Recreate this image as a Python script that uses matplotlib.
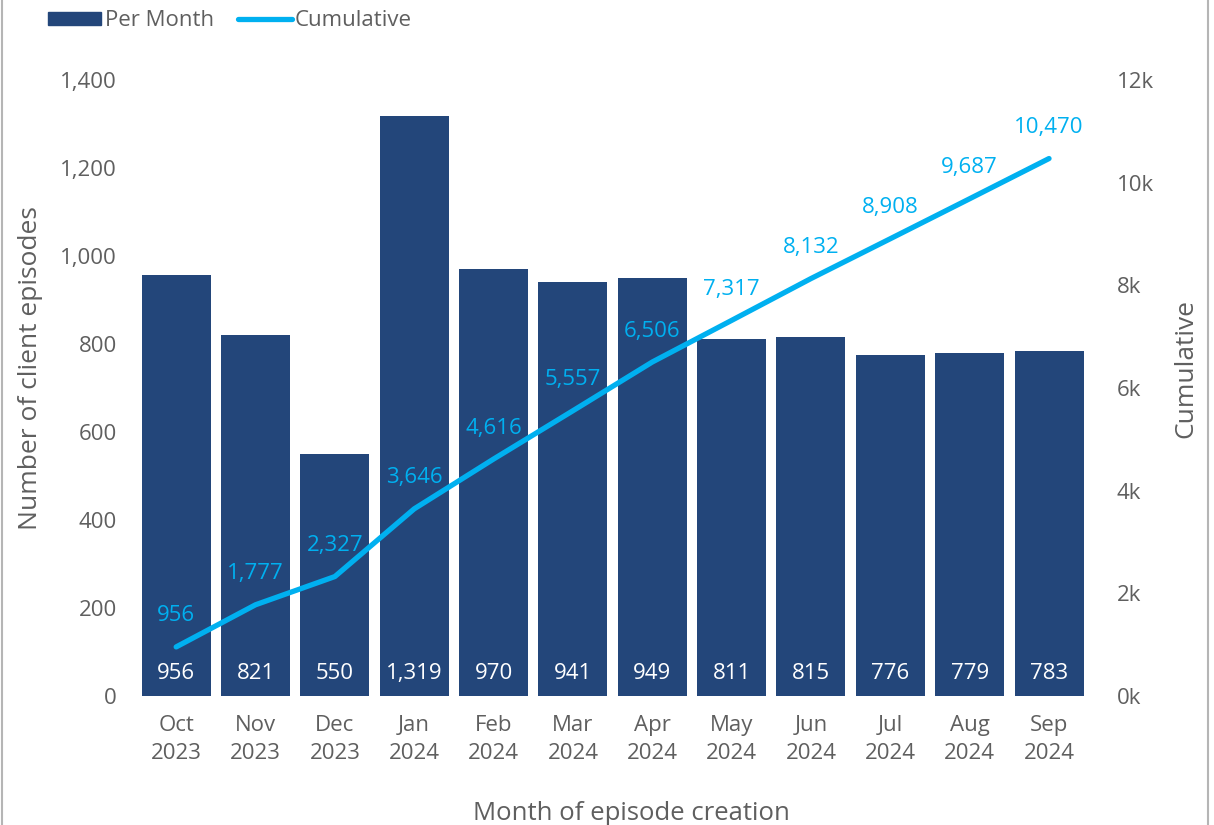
import matplotlib
matplotlib.use("Agg")
import matplotlib.pyplot as plt
from matplotlib.lines import Line2D
from matplotlib.ticker import FuncFormatter
import numpy as np

months = ["Oct\n2023", "Nov\n2023", "Dec\n2023", "Jan\n2024", "Feb\n2024", "Mar\n2024",
          "Apr\n2024", "May\n2024", "Jun\n2024", "Jul\n2024", "Aug\n2024", "Sep\n2024"]
per_month = [956, 821, 550, 1319, 970, 941, 949, 811, 815, 776, 779, 783]
cumulative = [956, 1777, 2327, 3646, 4616, 5557, 6506, 7317, 8132, 8908, 9687, 10470]

bar_color = '#23467A'
line_color = '#00B0F0'
text_color = '#5f5f5f'

plt.rcParams['font.family'] = ['Open Sans', 'DejaVu Sans']
plt.rcParams['font.size'] = 16

fig = plt.figure(figsize=(12.14, 8.25), dpi=100)
ax = fig.add_axes([136.5 / 1214, 1 - 696 / 825, (1088.7 - 136.5) / 1214, (696 - 80) / 825])
ax2 = ax.twinx()

x = np.arange(len(months))
ax.bar(x, per_month, 0.87, color=bar_color, label='Per Month', zorder=2)
ax.set_xlim(-0.5, len(months) - 0.5)
ax.set_ylim(0, 1400)
ax.set_yticks(range(0, 1401, 200))
ax.yaxis.set_major_formatter(FuncFormatter(lambda v, p: f'{int(v):,}'))

for xi, v in zip(x, per_month):
    ax.text(xi, 52, f'{v:,}', ha='center', va='center', color='white', fontsize=16, zorder=3)

ax2.plot(x, cumulative, color=line_color, lw=3.8, solid_capstyle='round', label='Cumulative', zorder=3)
ax2.set_ylim(0, 12000)
ax2.set_yticks(range(0, 12001, 2000))
ax2.yaxis.set_major_formatter(FuncFormatter(lambda v, p: f'{int(v / 1000)}k'))
for xi, v in zip(x, cumulative):
    ax2.annotate(f'{v:,}', (xi, v), xytext=(0, 31), textcoords='offset pixels',
                 ha='center', va='center', color=line_color, fontsize=16)

for a in (ax, ax2):
    for s in a.spines.values():
        s.set_visible(False)
    a.tick_params(length=0, colors=text_color, labelsize=16)
ax.tick_params(axis='y', pad=14)
ax2.tick_params(axis='y', pad=20)
ax.tick_params(axis='x', pad=14)

ax.set_ylabel('Number of client episodes', color=text_color, fontsize=19)
ax.yaxis.set_label_coords(-0.098, 0.532)
ax2.set_ylabel('Cumulative', color=text_color, fontsize=19)
ax2.yaxis.set_label_coords(1.0885, 0.532)
ax.set_xlabel('Month of episode creation', color=text_color, fontsize=18.5)
ax.xaxis.set_label_coords(0.52, -0.17)
ax.set_xticks(x)
ax.set_xticklabels(months, linespacing=1.4)

handles = [plt.Rectangle((0, 0), 1, 1, color=bar_color),
           Line2D([0], [0], color=line_color, lw=3.8, solid_capstyle='round')]
fig.legend(handles, ['Per Month', 'Cumulative'], loc='upper left', bbox_to_anchor=(28 / 1214, 1.012),
           ncol=2, frameon=False, fontsize=16, handlelength=2.4, handleheight=0.5, handletextpad=0.15,
           columnspacing=1.1, labelcolor=text_color)

fig.add_artist(Line2D([2 / 1214, 2 / 1214], [0, 1], color='#b5b5b5', lw=1.5))
fig.add_artist(Line2D([1208 / 1214, 1208 / 1214], [0, 1], color='#b5b5b5', lw=1.5))

fig.savefig('out.png', dpi=100)
